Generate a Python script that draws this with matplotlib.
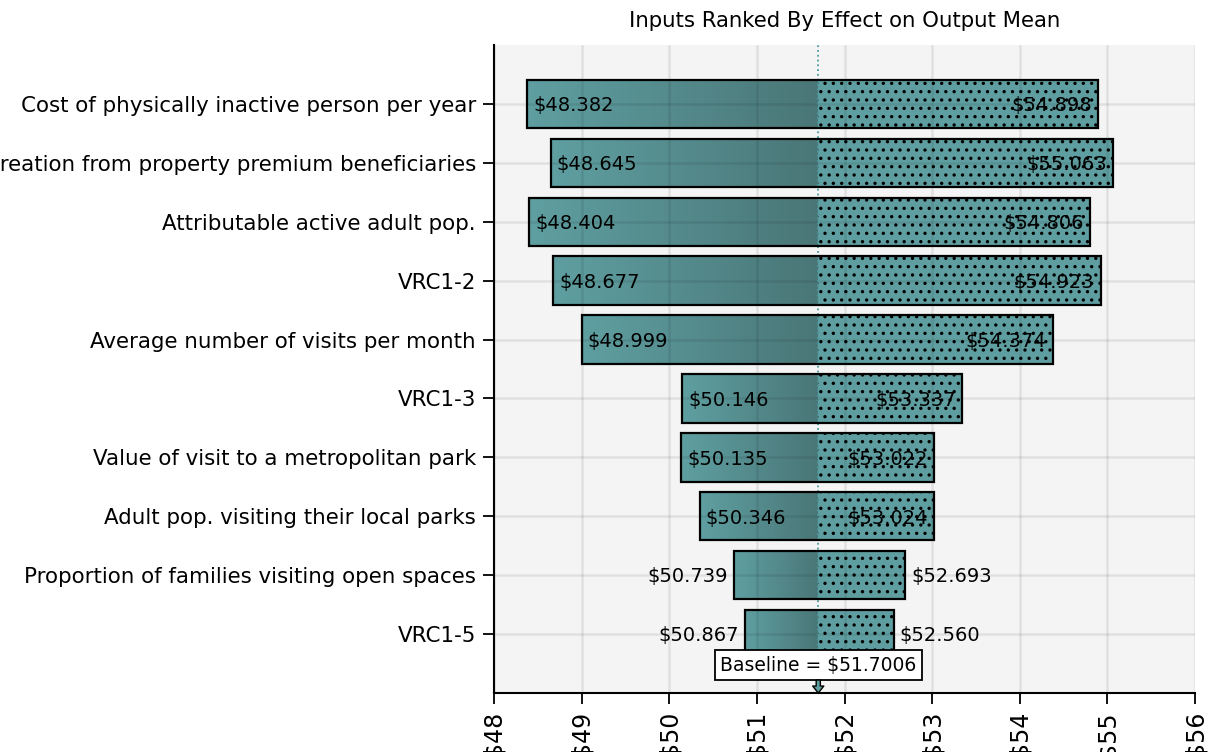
import numpy as np
import matplotlib.pyplot as plt
from matplotlib.patches import Rectangle
from matplotlib.colors import LinearSegmentedColormap

# tornado data, top to bottom
inputs = ['Cost of physically inactive person per year',
          'Recreation from property premium beneficiaries',
          'Attributable active adult pop.',
          'VRC1-2',
          'Average number of visits per month',
          'VRC1-3',
          'Value of visit to a metropolitan park',
          'Adult pop. visiting their local parks',
          'Proportion of families visiting open spaces',
          'VRC1-5']
low_vals = [48.382, 48.645, 48.404, 48.677, 48.999, 50.146, 50.135, 50.346, 50.739, 50.867]
high_vals = [54.898, 55.063, 54.806, 54.923, 54.374, 53.337, 53.022, 53.024, 52.693, 52.560]
baseline = 51.7006
xticks = [48, 49, 50, 51, 52, 53, 54, 55, 56]

plt.rcParams['font.family'] = 'DejaVu Sans'
plt.rcParams['hatch.linewidth'] = 1.2

fig = plt.figure(figsize=(12.08, 7.52), dpi=100)
ax = fig.add_axes([494/1208, 1 - 693/752, (1195 - 494)/1208, (693 - 45)/752])
ax.set_facecolor('#f4f4f4')

teal = '#5f9ea0'
grad = LinearSegmentedColormap.from_list('g', ['#5f9fa1', '#4a7677'])
h = 0.82
inside = [True] * 8 + [False] * 2

for i, (lo, hi) in enumerate(zip(low_vals, high_vals)):
    # left side: gradient bar
    rect = Rectangle((lo, i - h/2), baseline - lo, h, facecolor='none',
                     edgecolor='none', zorder=2)
    ax.add_patch(rect)
    im = ax.imshow(np.linspace(0, 1, 256).reshape(1, -1), cmap=grad, aspect='auto',
                   extent=[lo, baseline, i + h/2, i - h/2], zorder=2)
    im.set_clip_path(rect)
    # right side: dotted bar
    ax.add_patch(Rectangle((baseline, i - h/2), hi - baseline, h, facecolor=teal,
                           edgecolor='black', hatch='..', linewidth=0, zorder=2))
    # outline of whole bar
    ax.add_patch(Rectangle((lo, i - h/2), hi - lo, h, facecolor='none',
                           edgecolor='black', linewidth=1.6, zorder=4))
    if inside[i]:
        ax.text(lo + 0.07, i + 0.03, f'${lo:.3f}', ha='left', va='center', fontsize=14, zorder=5)
        ax.text(hi - 0.07, i + 0.03, f'${hi:.3f}', ha='right', va='center', fontsize=14, zorder=5)
    else:
        ax.text(lo - 0.07, i + 0.03, f'${lo:.3f}', ha='right', va='center', fontsize=14, zorder=5)
        ax.text(hi + 0.07, i + 0.03, f'${hi:.3f}', ha='left', va='center', fontsize=14, zorder=5)

ax.axvline(baseline, color='#4a9a9e', linestyle=':', linewidth=1.3, zorder=3)

ax.set_xlim(48, 56)
ax.set_ylim(10, -1)
ax.set_xticks(xticks)
ax.set_xticklabels([f'${t}' for t in xticks], rotation=90, fontsize=17)
ax.set_yticks(range(len(inputs)))
ax.set_yticklabels(inputs, fontsize=15.4)
ax.tick_params(axis='both', direction='out', length=8, width=1.3, pad=5)
ax.grid(True, color='black', alpha=0.08, linewidth=1.8, zorder=4)
ax.set_axisbelow(False)
for s in ['top', 'right']:
    ax.spines[s].set_visible(False)
for s in ['left', 'bottom']:
    ax.spines[s].set_linewidth(1.5)

ax.text(baseline, 9.53, f'Baseline = ${baseline}', ha='center', va='center', fontsize=13.5,
        bbox=dict(boxstyle='square,pad=0.3', facecolor='white', edgecolor='black', linewidth=1.3),
        zorder=6)
ax.annotate('', xy=(baseline, 10.0), xytext=(baseline, 9.78),
            arrowprops=dict(arrowstyle='simple,head_width=0.8,head_length=0.5,tail_width=0.3',
                            facecolor=teal, edgecolor='black', linewidth=1.0, mutation_scale=10,
                            shrinkA=0, shrinkB=0),
            zorder=6, annotation_clip=False)

ax.set_title('Inputs Ranked By Effect on Output Mean', fontsize=15.3, pad=13)

fig.savefig('out.png', dpi=100)
